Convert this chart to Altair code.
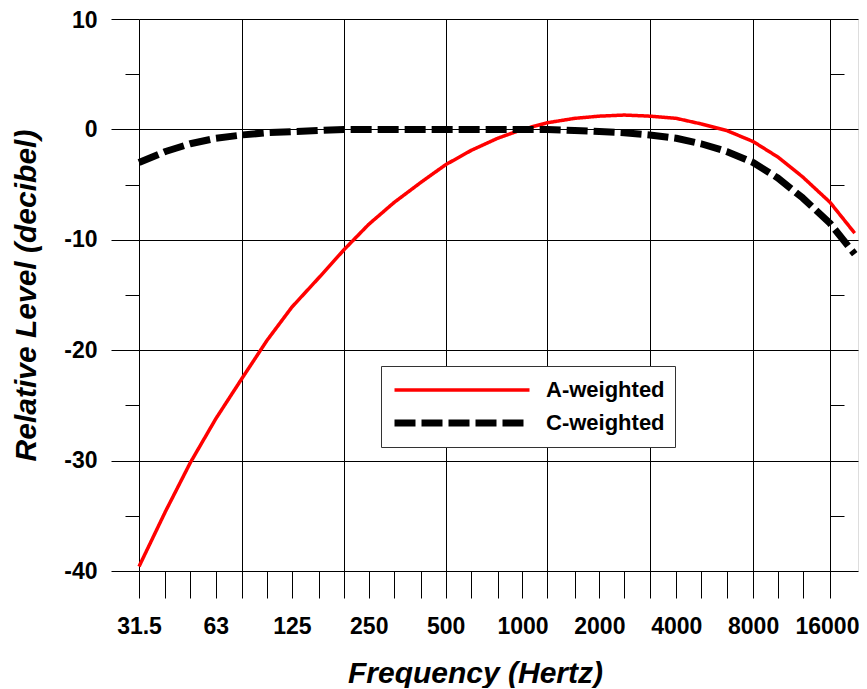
import altair as alt
import pandas as pd

# ---- data ----
freqs = [31.5, 40, 50, 63, 80, 100, 125, 160, 200, 250, 315, 400, 500, 630, 800,
         1000, 1250, 1600, 2000, 2500, 3150, 4000, 5000, 6300, 8000, 10000, 12500,
         16000, 20000]
a_weighted = [-39.6, -34.6, -30.2, -26.2, -22.5, -19.1, -16.1, -13.4, -10.9, -8.6,
              -6.6, -4.8, -3.2, -1.9, -0.8, 0.0, 0.6, 1.0, 1.2, 1.3, 1.2, 1.0, 0.5,
              -0.1, -1.1, -2.5, -4.3, -6.6, -9.4]
c_weighted = [-3.0, -2.0, -1.3, -0.8, -0.5, -0.3, -0.2, -0.1, 0.0, 0.0, 0.0, 0.0,
              0.0, 0.0, 0.0, 0.0, 0.0, -0.1, -0.2, -0.3, -0.5, -0.8, -1.3, -2.0,
              -3.0, -4.4, -6.2, -8.5, -11.3]
series_names = ["A-weighted", "C-weighted"]

x_tick_values = freqs[:-1]
x_label_values = [31.5, 63, 125, 250, 500, 1000, 2000, 4000, 8000, 16000]
x_grid_values = [31.5, 80, 200, 500, 1250, 3150, 8000, 16000]
y_tick_values = [-40, -35, -30, -25, -20, -15, -10, -5, 0, 5, 10]
y_minor_values = [-35, -25, -15, -5, 5]

rows = []
for f, a in zip(freqs, a_weighted):
    rows.append({"freq": f, "level": a, "series": series_names[0]})
for f, c in zip(freqs, c_weighted):
    rows.append({"freq": f, "level": c, "series": series_names[1]})
df = pd.DataFrame(rows)

FONT = "Liberation Sans"

def member(vals):
    return "(" + " || ".join(f"datum.value == {v}" for v in vals) + ")"

x_axis = alt.Axis(
    values=x_tick_values,
    title="Frequency (Hertz)",
    titleFont=FONT, titleFontSize=30, titleFontWeight="bold", titleFontStyle="italic",
    titleColor="black", titlePadding=20, titleX=336,
    labelExpr=f"{member(x_label_values)} ? '' + datum.value : ''",
    labelFont=FONT, labelFontSize=23, labelFontWeight="bold", labelColor="black",
    labelPadding=17, labelOverlap=False, labelFlush=False,
    labelOffset={"condition": {"test": f"datum.value == {x_label_values[-1]}", "value": -3}, "value": 0},
    tickSize=27, tickColor="black", tickWidth=1,
    grid=True, gridColor="black", gridWidth=1,
    gridOpacity={"condition": {"test": member(x_grid_values), "value": 1}, "value": 0},
    domain=False,
)

y_axis = alt.Axis(
    values=y_tick_values,
    title="Relative Level (decibel)",
    titleFont=FONT, titleFontSize=30, titleFontWeight="bold", titleFontStyle="italic",
    titleColor="black", titlePadding=22,
    labelExpr="datum.value % 10 === 0 ? '' + datum.value : ''",
    labelFont=FONT, labelFontSize=23, labelFontWeight="bold", labelColor="black",
    labelPadding=14,
    labelOffset={"condition": {"test": f"datum.value == {y_tick_values[-1]}", "value": 1.5}, "value": 0},
    tickSize={"condition": {"test": "datum.value % 10 === 0", "value": 28}, "value": 14},
    tickColor="black", tickWidth=1,
    grid=True, gridColor="black", gridWidth=1,
    gridOpacity={"condition": {"test": "datum.value % 10 === 0", "value": 1}, "value": 0},
    domain=False,
)

y_axis_right = alt.Axis(
    orient="right", offset=-28, values=y_minor_values, labels=False, title=None,
    tickSize=14, tickColor="black", tickWidth=1, grid=False, domain=False,
)

leg = alt.Legend(
    title=None, orient="none", legendX=242, legendY=347, direction="vertical",
    symbolType="stroke", symbolSize=18225, clipHeight=28, rowPadding=5,
    labelFont=FONT, labelFontSize=22, labelFontWeight="bold", labelColor="black",
    labelOffset=13, padding=10, strokeColor="#333333", fillColor="white",
)

x_scale = alt.Scale(type="log", domain=[31.5, 20600], nice=False)
y_scale = alt.Scale(domain=[-40, 10], nice=False, zero=False)

lines = alt.Chart(df).mark_line(strokeCap="butt", strokeJoin="round").encode(
    x=alt.X("freq:Q", scale=x_scale, axis=x_axis),
    y=alt.Y("level:Q", scale=y_scale, axis=y_axis),
    color=alt.Color("series:N", scale=alt.Scale(domain=series_names, range=["#ff0000", "#000000"]), legend=leg),
    strokeDash=alt.StrokeDash("series:N", scale=alt.Scale(domain=series_names, range=[[1, 0], [21, 6]]), legend=leg),
    strokeWidth=alt.StrokeWidth("series:N", scale=alt.Scale(domain=series_names, range=[3.5, 7]), legend=leg),
    order=alt.Order("freq:Q"),
)

ticks_right = alt.Chart(df).mark_line(opacity=0).encode(
    x=alt.X("freq:Q", scale=x_scale, axis=x_axis),
    y=alt.Y("level:Q", scale=y_scale, axis=y_axis_right),
    detail="series:N",
)

chart = alt.layer(lines, ticks_right).resolve_axis(y="independent").properties(
    width=719, height=552,
    autosize=alt.AutoSizeParams(type="none"),
    padding={"left": 131, "top": 11, "right": 1, "bottom": 117},
).configure_view(stroke=None).configure(background="white")

chart.save("out.html", embed_options={"renderer": "svg", "actions": False})
